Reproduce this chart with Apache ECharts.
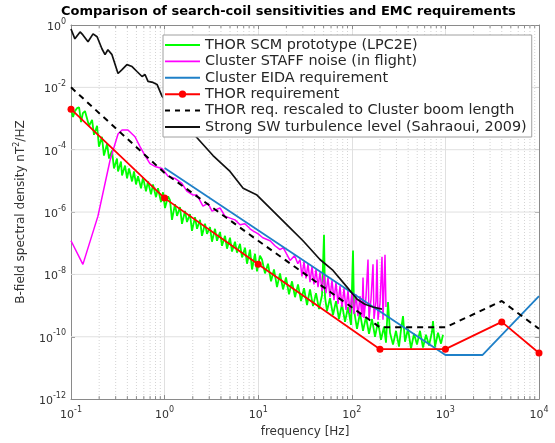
<!DOCTYPE html>
<html><head><meta charset="utf-8">
<script src="https://cdn.jsdelivr.net/npm/echarts@6/dist/echarts.min.js"></script>
<style>html,body{margin:0;padding:0;background:#fff}#c{width:555px;height:443px}</style>
</head><body><div id="c"></div>
<script>
const seriesNames = [
  'THOR SCM prototype (LPC2E)',
  'Cluster STAFF noise (in flight)',
  'Cluster EIDA requirement',
  'THOR requirement',
  'THOR req. rescaled to Cluster boom length',
  'Strong SW turbulence level (Sahraoui, 2009)'
];
const xTickExps = [-1, 0, 1, 2, 3, 4];
const yTickExps = [0, -2, -4, -6, -8, -10, -12];
const minorDecades = [0.1, 1, 10, 100, 1000];
const minorMultipliers = [2, 3, 4, 5, 6, 7, 8, 9];

// THOR SCM prototype (green)
const scmLow = [[0.100,2.0e-3],[0.105,1.12e-3],[0.110,1.73e-3],[0.116,2.15e-3],[0.122,2.3e-3],[0.128,7.7e-4],[0.134,1.5e-3],[0.141,1.73e-3],[0.148,1.86e-3],[0.156,5.8e-4],[0.168,9e-4],[0.176,3.0e-4],[0.190,5.8e-4],[0.199,1.25e-4],[0.214,2.6e-4],[0.225,6.5e-5],[0.243,1.55e-4],[0.255,5.2e-5],[0.274,9.3e-5],[0.288,2.5e-5],[0.310,5.2e-5],[0.318,2.0e-5],[0.342,4.2e-5],[0.351,1.5e-5],[0.378,3.1e-5],[0.397,1.2e-5],[0.417,2.5e-5],[0.449,9.6e-6],[0.471,2.0e-5],[0.495,7.7e-6],[0.520,1.4e-5],[0.560,5.8e-6],[0.588,1.3e-5],[0.633,4.6e-6],[0.665,9.6e-6],[0.716,3.7e-6],[0.752,7.7e-6],[0.809,3.0e-6],[0.850,5.8e-6],[0.916,2.1e-6],[0.962,4.3e-6],[1.01,1.34e-6],[1.09,3.2e-6]];
const scmMid = [[1.142,2.4e-6],[1.200,5.6e-7],[1.291,1.8e-6],[1.357,7.5e-7],[1.460,1.44e-6],[1.534,4.2e-7],[1.652,1.08e-6],[1.735,4.8e-7],[1.868,8.6e-7],[1.962,2.5e-7],[2.113,6.9e-7],[2.220,2.9e-7],[2.389,5.6e-7],[2.509,1.73e-7],[2.702,4.2e-7],[2.838,2.0e-7],[3.055,3.3e-7],[3.209,1.12e-7],[3.455,2.9e-7],[3.629,1.2e-7],[3.907,2.3e-7],[4.104,8.3e-8],[4.420,1.73e-7],[4.642,6.7e-8],[4.997,1.5e-7],[5.249,5.4e-8],[5.652,1.12e-7],[5.936,5.0e-8],[6.392,9.6e-8],[6.713,3.5e-8],[7.228,7.2e-8],[7.592,2.2e-8],[8.174,6.2e-8],[8.587,1.44e-8],[9.243,4.6e-8],[9.710,1.25e-8],[10.45,4.0e-8]];
const scmHigh = [[10.98,3.0e-8],[11.82,1.08e-8],[12.73,2.2e-8],[13.71,6.0e-9],[14.75,1.44e-8],[15.88,3.9e-9],[17.10,1.08e-8],[18.41,3.3e-9],[19.82,8.0e-9],[21.34,2.3e-9],[22.97,6.0e-9],[24.74,1.86e-9],[26.63,4.8e-9],[28.67,1.39e-9],[30.87,3.6e-9],[33.23,1.04e-9],[35.77,3.3e-9],[38.51,9.6e-10],[41.46,2.5e-9],[44.64,7.7e-10],[48.05,2.15e-9],[50.47,1.86e-7],[51.73,1.86e-9],[54.33,6.7e-10],[58.50,1.73e-9],[62.97,5.0e-10],[67.79,1.39e-9],[72.98,3.7e-10],[78.57,1.12e-9],[84.60,3.0e-10],[91.08,9.0e-10],[98.05,2.4e-10],[103.0,5.8e-8],[105.6,7.2e-10],[113.7,1.8e-10],[122.4,5.8e-10],[131.8,1.55e-10],[141.8,4.3e-10],[152.7,1.25e-10],[164.4,3.7e-10],[177.0,1.0e-10],[190.5,3.0e-10],[205.1,8.0e-11],[220.8,2.1e-10],[231.9,6.5e-11],[243.7,1.29e-9],[255.9,1.34e-10],[275.5,5.6e-11],[296.7,1.55e-10],[319.4,4.8e-11],[335.5,1.67e-10],[352.4,4.6e-10],[370.2,6.9e-11],[398.6,1.8e-10],[429.1,4.2e-11],[461.9,1.25e-10],[497.3,5.6e-11],[535.4,1.55e-10],[576.4,4.5e-11],[620.5,1.16e-10],[668.1,5.2e-11],[719.2,1.44e-10],[737.1,3.2e-10],[774.3,4.8e-11],[833.6,1.34e-10],[897.5,6.0e-11],[942.8,1.16e-10]];

// Cluster STAFF noise (magenta)
const staffLow = [[0.1,1.2e-7],[0.134,2.1e-8],[0.194,7.4e-7],[0.261,4.5e-5],[0.318,3.2e-4],[0.351,4.3e-4],[0.406,4.3e-4],[0.483,2.6e-4],[0.546,1.25e-4],[0.618,6.5e-5],[0.698,3.6e-5],[0.789,2.9e-5],[0.938,2.5e-5],[1.09,1.4e-5],[1.29,1.2e-5],[1.53,8.3e-6],[1.73,4.7e-6],[2.01,3.5e-6],[2.22,3.5e-6],[2.57,1.55e-6],[2.91,1.9e-6],[3.21,1.07e-6],[3.54,1.2e-6],[3.91,1.35e-6],[4.42,7.4e-7],[5.0,6.4e-7],[5.65,5.6e-7],[6.4,3.9e-7],[7.2,4.2e-7],[8.2,2.9e-7],[8.8,2.5e-7],[10,2e-7],[11.2,1.5e-7],[13.4,1.2e-7],[15.1,8.3e-8],[17.1,6.2e-8],[18.5,7.2e-8],[21.9,2.8e-8],[24.5,4e-8],[26.5,2.2e-8]];
const staffHigh = [[27.97,3.0e-8],[29.37,8.6e-9],[30.87,2.6e-8],[32.42,7.5e-9],[34.05,2.2e-8],[35.77,5.6e-9],[37.57,1.8e-8],[39.47,4.8e-9],[41.46,1.44e-8],[43.55,3.9e-9],[45.75,1.16e-8],[48.05,2.9e-9],[50.47,1.0e-8],[53.02,2.5e-9],[55.68,8.0e-9],[58.50,1.86e-9],[61.44,6.5e-9],[64.54,1.5e-9],[67.79,5.6e-9],[71.21,1.12e-9],[74.80,4.2e-9],[78.57,9.0e-10],[82.53,3.6e-9],[86.70,7.2e-10],[91.08,3.1e-9],[95.67,5.8e-10],[100.5,2.7e-9],[105.6,5.4e-10],[110.9,2.3e-9],[116.5,4.6e-10],[122.4,2.0e-9],[128.5,4.3e-10],[131.8,8.0e-9],[135.0,4.0e-10],[141.8,1.86e-9],[149.0,3.0e-8],[152.7,3.7e-10],[160.4,1.6e-9],[168.5,2.1e-8],[172.7,3.7e-10],[181.4,1.39e-9],[185.9,3.0e-8],[190.5,3.5e-10],[200.1,1.2e-9],[210.2,3.7e-8],[215.4,3.5e-10],[226.3,4.3e-8],[231.9,9.0e-10]];

// Cluster EIDA requirement (blue)
const eidaReq = [[1,2.6e-5],[1000,2.6e-11],[2500,2.6e-11],[10000,2e-9]];
// THOR requirement (red)
const thorReq = [[0.1,2e-3],[1,2.8e-6],[10,2.1e-8],[200,4e-11],[1000,4e-11],[4000,3e-10],[10000,3e-11]];
// THOR requirement rescaled (dashed)
const thorRescaled = [[0.1,1e-2],[1,1.8e-5],[10,1.2e-7],[200,2e-10],[1000,2e-10],[4000,1.4e-9],[10000,1.8e-10]];
// Strong SW turbulence (black)
const turbulence = [[0.100,0.746],[0.110,0.36],[0.125,0.60],[0.134,0.48],[0.152,0.29],[0.172,0.52],[0.190,0.42],[0.214,0.173],[0.231,0.112],[0.248,0.161],[0.274,0.112],[0.318,0.0278],[0.351,0.0372],[0.396,0.0537],[0.449,0.0465],[0.507,0.0322],[0.574,0.0223],[0.618,0.0259],[0.665,0.0155],[0.752,0.0144],[0.830,0.0124],[0.938,5.2e-3],[1.46,1.2e-3],[2.17,2.6e-4],[3.29,6.5e-5],[5.0,2.0e-5],[6.9,5.8e-6],[9.7,3.5e-6],[13.4,1.34e-6],[20.3,3.9e-7],[30.1,1.2e-7],[45.7,3.0e-8],[63,1.34e-8],[89,3.9e-9],[114,1.6e-9],[138,1.1e-9],[168,9e-10],[210,7.7e-10]];

const FONT = 'DejaVu Sans';
const TXT = '#333333';
const AXC = '#8a8a8a';

const xMajor = xTickExps.map(e => Math.pow(10, e));
const yMajor = yTickExps.map(e => Math.pow(10, e));
const minorVals = [];
minorDecades.forEach(d => minorMultipliers.forEach(m => minorVals.push([d * m, 1e-6])));

function expLabel(v, list) {
  const e = Math.round(Math.log10(v));
  return list.indexOf(e) >= 0 ? '{b|10}{s|' + e + '}' : '';
}
const richTick = {
  b: {fontSize: 11, fontFamily: FONT, color: TXT, lineHeight: 15, verticalAlign: 'bottom'},
  s: {fontSize: 8, fontFamily: FONT, color: TXT, lineHeight: 15, verticalAlign: 'top'}
};

const chart = echarts.init(document.getElementById('c'), null, {renderer: 'canvas'});
const lineBase = {type: 'line', symbol: 'none', animation: false, clip: true};

const lineIcon = 'path://M0,0h36v2h-36z';
const dashIcon = 'path://M0,0h5v2h-5zM10,0h5v2h-5zM20,0h5v2h-5zM30,0h5v2h-5z';

chart.setOption({
  animation: false,
  backgroundColor: '#fff',
  title: {
    text: 'Comparison of search-coil sensitivities and EMC requirements',
    left: 61, top: 5, padding: 0,
    textStyle: {fontFamily: FONT, fontSize: 13, fontWeight: 'bold', color: '#000'}
  },
  legend: {
    orient: 'vertical', left: 163, top: 35,
    padding: [3, 5, 3, 1], itemGap: 2.4, itemWidth: 35, itemHeight: 9,
    backgroundColor: '#fff', borderColor: '#a0a0a0', borderWidth: 1,
    textStyle: {fontFamily: FONT, fontSize: 14.4, color: '#262626'},
    data: [
      {name: seriesNames[0], icon: lineIcon},
      {name: seriesNames[1], icon: lineIcon},
      {name: seriesNames[2], icon: lineIcon},
      {name: seriesNames[3]},
      {name: seriesNames[4], icon: dashIcon},
      {name: seriesNames[5], icon: lineIcon}
    ]
  },
  grid: {left: 71, right: 16, top: 25, bottom: 40, containLabel: false},
  xAxis: [{
    type: 'log', logBase: 10, min: 0.1, max: 10000, splitNumber: 5,
    name: 'frequency [Hz]', nameLocation: 'middle', nameGap: 24,
    nameTextStyle: {fontFamily: FONT, fontSize: 12, color: TXT},
    axisLine: {show: true, lineStyle: {color: AXC, width: 1}},
    axisTick: {show: true, inside: true, length: 4, lineStyle: {color: AXC}},
    axisLabel: {margin: 7, formatter: v => expLabel(v, xTickExps), rich: richTick},
    splitLine: {show: true, lineStyle: {color: '#e0e0e0', width: 1}}
  }, {
    type: 'log', logBase: 10, min: 0.1, max: 10000, splitNumber: 5, position: 'top',
    axisLine: {show: true, lineStyle: {color: AXC, width: 1}},
    axisTick: {show: true, inside: true, length: 4, lineStyle: {color: AXC}},
    axisLabel: {show: false}, splitLine: {show: false}
  }],
  yAxis: [{
    type: 'log', logBase: 10, min: 1e-12, max: 1, interval: 2,
    name: 'B-field spectral density nT{s|2}/HZ', nameLocation: 'middle', nameGap: 35,
    nameTextStyle: {fontFamily: FONT, fontSize: 12, color: TXT, lineHeight: 15,
      rich: {s: {fontSize: 8, fontFamily: FONT, color: TXT, verticalAlign: 'top', lineHeight: 15}}},
    axisLine: {show: true, lineStyle: {color: AXC, width: 1}},
    axisTick: {show: true, inside: true, length: 4, lineStyle: {color: AXC}, customValues: yMajor},
    axisLabel: {margin: 5, formatter: v => expLabel(v, yTickExps), rich: richTick, customValues: yMajor},
    splitLine: {show: false}
  }, {
    type: 'log', logBase: 10, min: 1e-12, max: 1, interval: 2, position: 'right',
    axisLine: {show: true, lineStyle: {color: AXC, width: 1}},
    axisTick: {show: true, inside: true, length: 4, lineStyle: {color: AXC}, customValues: yMajor},
    axisLabel: {show: false}, splitLine: {show: false}
  }],
  series: [
    {
      type: 'custom', name: 'minorGrid', silent: true, z: 1, clip: false,
      data: minorVals, encode: {x: 0, y: 1},
      renderItem: function (params, api) {
        const x = api.coord([api.value(0), 1])[0];
        const cs = params.coordSys;
        return {type: 'group', children: [
          {type: 'line', shape: {x1: x, y1: cs.y, x2: x, y2: cs.y + cs.height},
            style: {stroke: '#d4d4d4', lineWidth: 1, lineDash: [1, 2]}},
          {type: 'line', shape: {x1: x, y1: cs.y + cs.height, x2: x, y2: cs.y + cs.height - 3},
            style: {stroke: AXC, lineWidth: 1}},
          {type: 'line', shape: {x1: x, y1: cs.y, x2: x, y2: cs.y + 3},
            style: {stroke: AXC, lineWidth: 1}}
        ]};
      }
    },
    {
      type: 'custom', name: 'yGrid', silent: true, z: 1, clip: false,
      data: yMajor.map(v => [1, v]), encode: {x: 0, y: 1},
      renderItem: function (params, api) {
        const y = api.coord([1, api.value(1)])[1];
        const cs = params.coordSys;
        if (Math.abs(y - cs.y) < 1 || Math.abs(y - cs.y - cs.height) < 1) return null;
        return {type: 'line', shape: {x1: cs.x, y1: y, x2: cs.x + cs.width, y2: y},
          style: {stroke: '#e0e0e0', lineWidth: 1}};
      }
    },
    Object.assign({}, lineBase, {name: seriesNames[0], data: scmLow.concat(scmMid, scmHigh),
      lineStyle: {color: '#00ff00', width: 1.8}, itemStyle: {color: '#00ff00'}}),
    Object.assign({}, lineBase, {name: seriesNames[1], data: staffLow.concat(staffHigh),
      lineStyle: {color: '#ff00ff', width: 1.5}, itemStyle: {color: '#ff00ff'}}),
    Object.assign({}, lineBase, {name: seriesNames[2], data: eidaReq,
      lineStyle: {color: '#1f80c8', width: 1.8}, itemStyle: {color: '#1f80c8'}}),
    Object.assign({}, lineBase, {name: seriesNames[3], data: thorReq, symbol: 'circle', symbolSize: 7, showSymbol: true,
      lineStyle: {color: '#ff0000', width: 1.8}, itemStyle: {color: '#ff0000'}}),
    Object.assign({}, lineBase, {name: seriesNames[4], data: thorRescaled,
      lineStyle: {color: '#000', width: 2, type: [6, 5]}, itemStyle: {color: '#000'}}),
    Object.assign({}, lineBase, {name: seriesNames[5], data: turbulence,
      lineStyle: {color: '#111', width: 1.7}, itemStyle: {color: '#111'}})
  ]
});
</script></body></html>
